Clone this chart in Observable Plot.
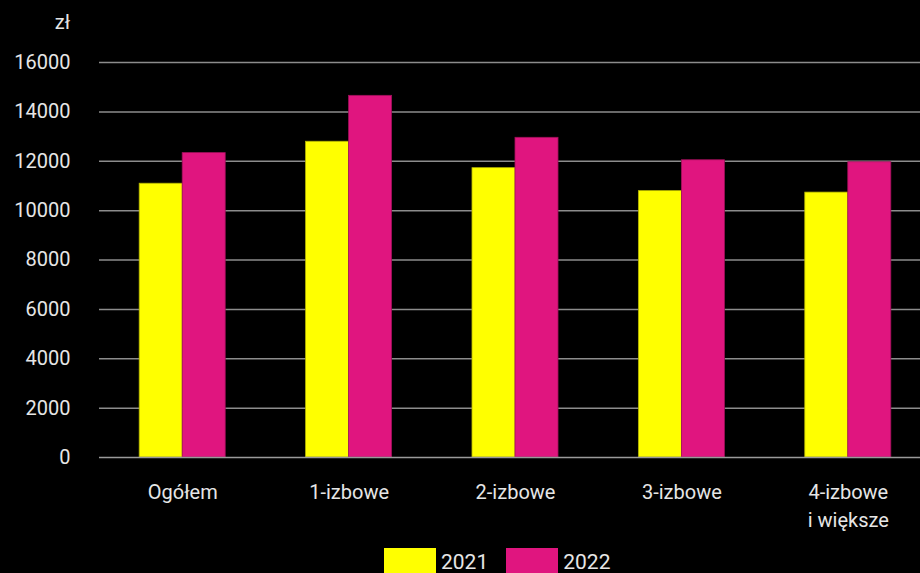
<!DOCTYPE html>
<html>
<head>
<meta charset="utf-8">
<script src="https://cdn.jsdelivr.net/npm/d3@7"></script>
<script src="https://cdn.jsdelivr.net/npm/@observablehq/plot@0.6"></script>
<style>
  html, body { margin: 0; padding: 0; background: #000; }
  #chart { width: 920px; height: 573px; overflow: hidden; position: relative; }
  #chart svg { display: block; }
  .legend { position: absolute; top: 548px; left: 384px; display: flex; gap: 18px; font-family: Roboto, "Noto Sans", sans-serif; font-size: 21px; color: #e6e6e6; line-height: 28px; }
  .legend span.item { display: flex; align-items: center; gap: 5px; }
  .legend span.sw { display: inline-block; width: 52px; height: 28px; }
</style>
</head>
<body>
<div id="chart"></div>
<script>
const categories = ["Ogółem", "1-izbowe", "2-izbowe", "3-izbowe", "4-izbowe\ni większe"];
const years = ["2021", "2022"];
const values2021 = [11090, 12790, 11720, 10790, 10730];
const values2022 = [12330, 14650, 12950, 12040, 11960];
const yTicks = [0, 2000, 4000, 6000, 8000, 10000, 12000, 14000, 16000];
const colors = ["#ffff00", "#e0157f"];
const strokeColors = ["#b5b500", "#a0105a"];
const unitLabel = "zł";

const data2021 = categories.map((c, i) => ({cat: c, value: values2021[i]}));
const data2022 = categories.map((c, i) => ({cat: c, value: values2022[i]}));

const plot = Plot.plot({
  width: 920,
  height: 543,
  marginLeft: 99,
  marginRight: -11,
  marginTop: 62,
  marginBottom: 86,
  style: {background: "#000", color: "#e6e6e6", fontFamily: "Roboto, 'Noto Sans', sans-serif", fontSize: "20px", overflow: "visible"},
  x: {domain: categories, paddingInner: 0.483, paddingOuter: 0.2415, align: 0.5, round: false},
  y: {domain: [0, 16000]},
  marks: [
    Plot.ruleY(yTicks.filter(d => d > 0), {stroke: "#8c8c8c", strokeWidth: 1.5}),
    Plot.barY(data2021, {x: "cat", y: "value", fill: colors[0], stroke: strokeColors[0], strokeWidth: 0.8, insetRight: 43}),
    Plot.barY(data2022, {x: "cat", y: "value", fill: colors[1], stroke: strokeColors[1], strokeWidth: 0.8, insetLeft: 43}),
    Plot.ruleY([0], {stroke: "#9a9a9a", strokeWidth: 1.5}),
    Plot.axisY({ticks: yTicks, tickSize: 0, tickPadding: 29, label: null, tickFormat: d => String(d), fill: "#e6e6e6", fontSize: 20}),
    Plot.axisX({tickSize: 0, tickPadding: 22, label: null, lineHeight: 1.4, fill: "#e6e6e6", fontSize: 20}),
    Plot.text([unitLabel], {frameAnchor: "top-left", dx: -37, dy: -48, fill: "#e6e6e6", fontSize: 20, textAnchor: "middle"})
  ]
});
const chart = document.getElementById("chart");
chart.appendChild(plot);

const legend = document.createElement("div");
legend.className = "legend";
years.forEach((y, i) => {
  const item = document.createElement("span");
  item.className = "item";
  const sw = document.createElement("span");
  sw.className = "sw";
  sw.style.background = colors[i];
  const t = document.createElement("span");
  t.textContent = y;
  item.appendChild(sw);
  item.appendChild(t);
  legend.appendChild(item);
});
chart.appendChild(legend);
</script>
</body>
</html>
